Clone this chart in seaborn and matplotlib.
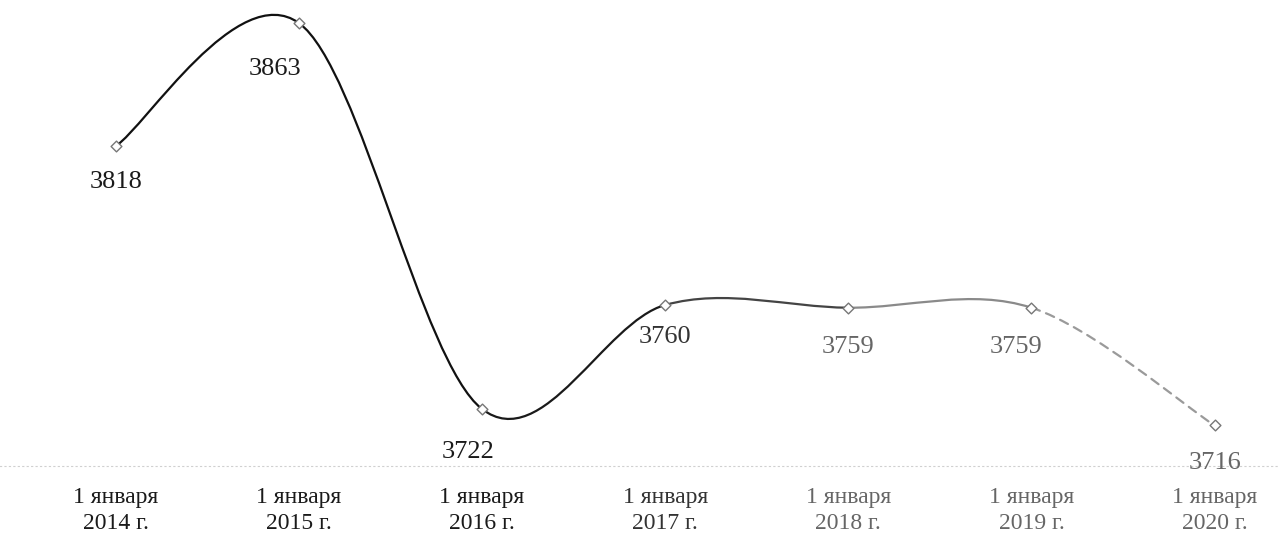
import numpy as np
import pandas as pd
import matplotlib
matplotlib.use("Agg")
import matplotlib.pyplot as plt
from matplotlib.path import Path
from matplotlib.patches import PathPatch
import seaborn as sns

# ── data ────────────────────────────────────────────────────────────────────
years = [2014, 2015, 2016, 2017, 2018, 2019, 2020]
values = [3818, 3863, 3722, 3760, 3759, 3759, 3716]
tick_labels = [f"1 января\n{y} г." for y in years]

# ── style ───────────────────────────────────────────────────────────────────
sns.set_theme(style="white")
plt.rcParams["font.family"] = ["Liberation Serif", "DejaVu Serif"]

seg_colors = ["#111111", "#111111", "#1a1a1a", "#444444", "#8a8a8a", "#9a9a9a"]
seg_styles = ["-", "-", "-", "-", "-", (0, (4, 3))]
lab_colors = ["#1a1a1a", "#1a1a1a", "#1a1a1a", "#333333", "#666666", "#666666", "#666666"]
lab_dx = [0, -17, -10, 0, 0, -11, 0]     # label offsets in points
lab_dy = [-26, -33, -31, -23, -28, -28, -27]

df = pd.DataFrame({"x": np.arange(len(years)), "value": values})

fig = plt.figure(figsize=(12.79, 5.36), dpi=100)
ax = fig.add_axes([0, 1 - 466 / 536, 1, 466 / 536])

# smoothed line (Catmull-Rom through the points, as Excel does)
x = df["x"].to_numpy(float)
y = df["value"].to_numpy(float)
n = len(x)
for i in range(n - 1):
    p0 = np.array([x[max(i - 1, 0)], y[max(i - 1, 0)]])
    p1 = np.array([x[i], y[i]])
    p2 = np.array([x[i + 1], y[i + 1]])
    p3 = np.array([x[min(i + 2, n - 1)], y[min(i + 2, n - 1)]])
    c1 = p1 + (p2 - p0) / 6
    c2 = p2 - (p3 - p1) / 6
    path = Path([p1, c1, c2, p2], [Path.MOVETO, Path.CURVE4, Path.CURVE4, Path.CURVE4])
    ax.add_patch(PathPatch(path, fill=False, lw=1.6, edgecolor=seg_colors[i],
                           linestyle=seg_styles[i], capstyle="round"))

sns.scatterplot(data=df, x="x", y="value", marker="D", s=30, color="white",
                edgecolor="#777777", linewidth=1.0, ax=ax, zorder=5)

for i, v in enumerate(values):
    ax.annotate(str(v), (i, v), xytext=(lab_dx[i], lab_dy[i]), textcoords="offset points",
                ha="center", va="center", fontsize=19, color=lab_colors[i])

# axes layout
ax.set_xlim(-115 / 182, 6 + 64 / 182)
ax.set_ylim(3722 - 57 / 2.738, 3863 + 23 / 2.738)
ax.set_xticks(df["x"])
ax.set_xticklabels(tick_labels, fontsize=17, linespacing=1.3)
for lbl, c in zip(ax.get_xticklabels(), lab_colors):
    lbl.set_color(c)
ax.tick_params(axis="x", length=0, pad=15)
ax.set_yticks([])
ax.set_xlabel("")
ax.set_ylabel("")
for side in ["top", "right", "left"]:
    ax.spines[side].set_visible(False)
ax.spines["bottom"].set_color("#d0d0d0")
ax.spines["bottom"].set_linestyle((0, (1, 3)))
ax.spines["bottom"].set_linewidth(0.8)
ax.set_facecolor("white")

fig.savefig("out.png", dpi=100, facecolor="white")
